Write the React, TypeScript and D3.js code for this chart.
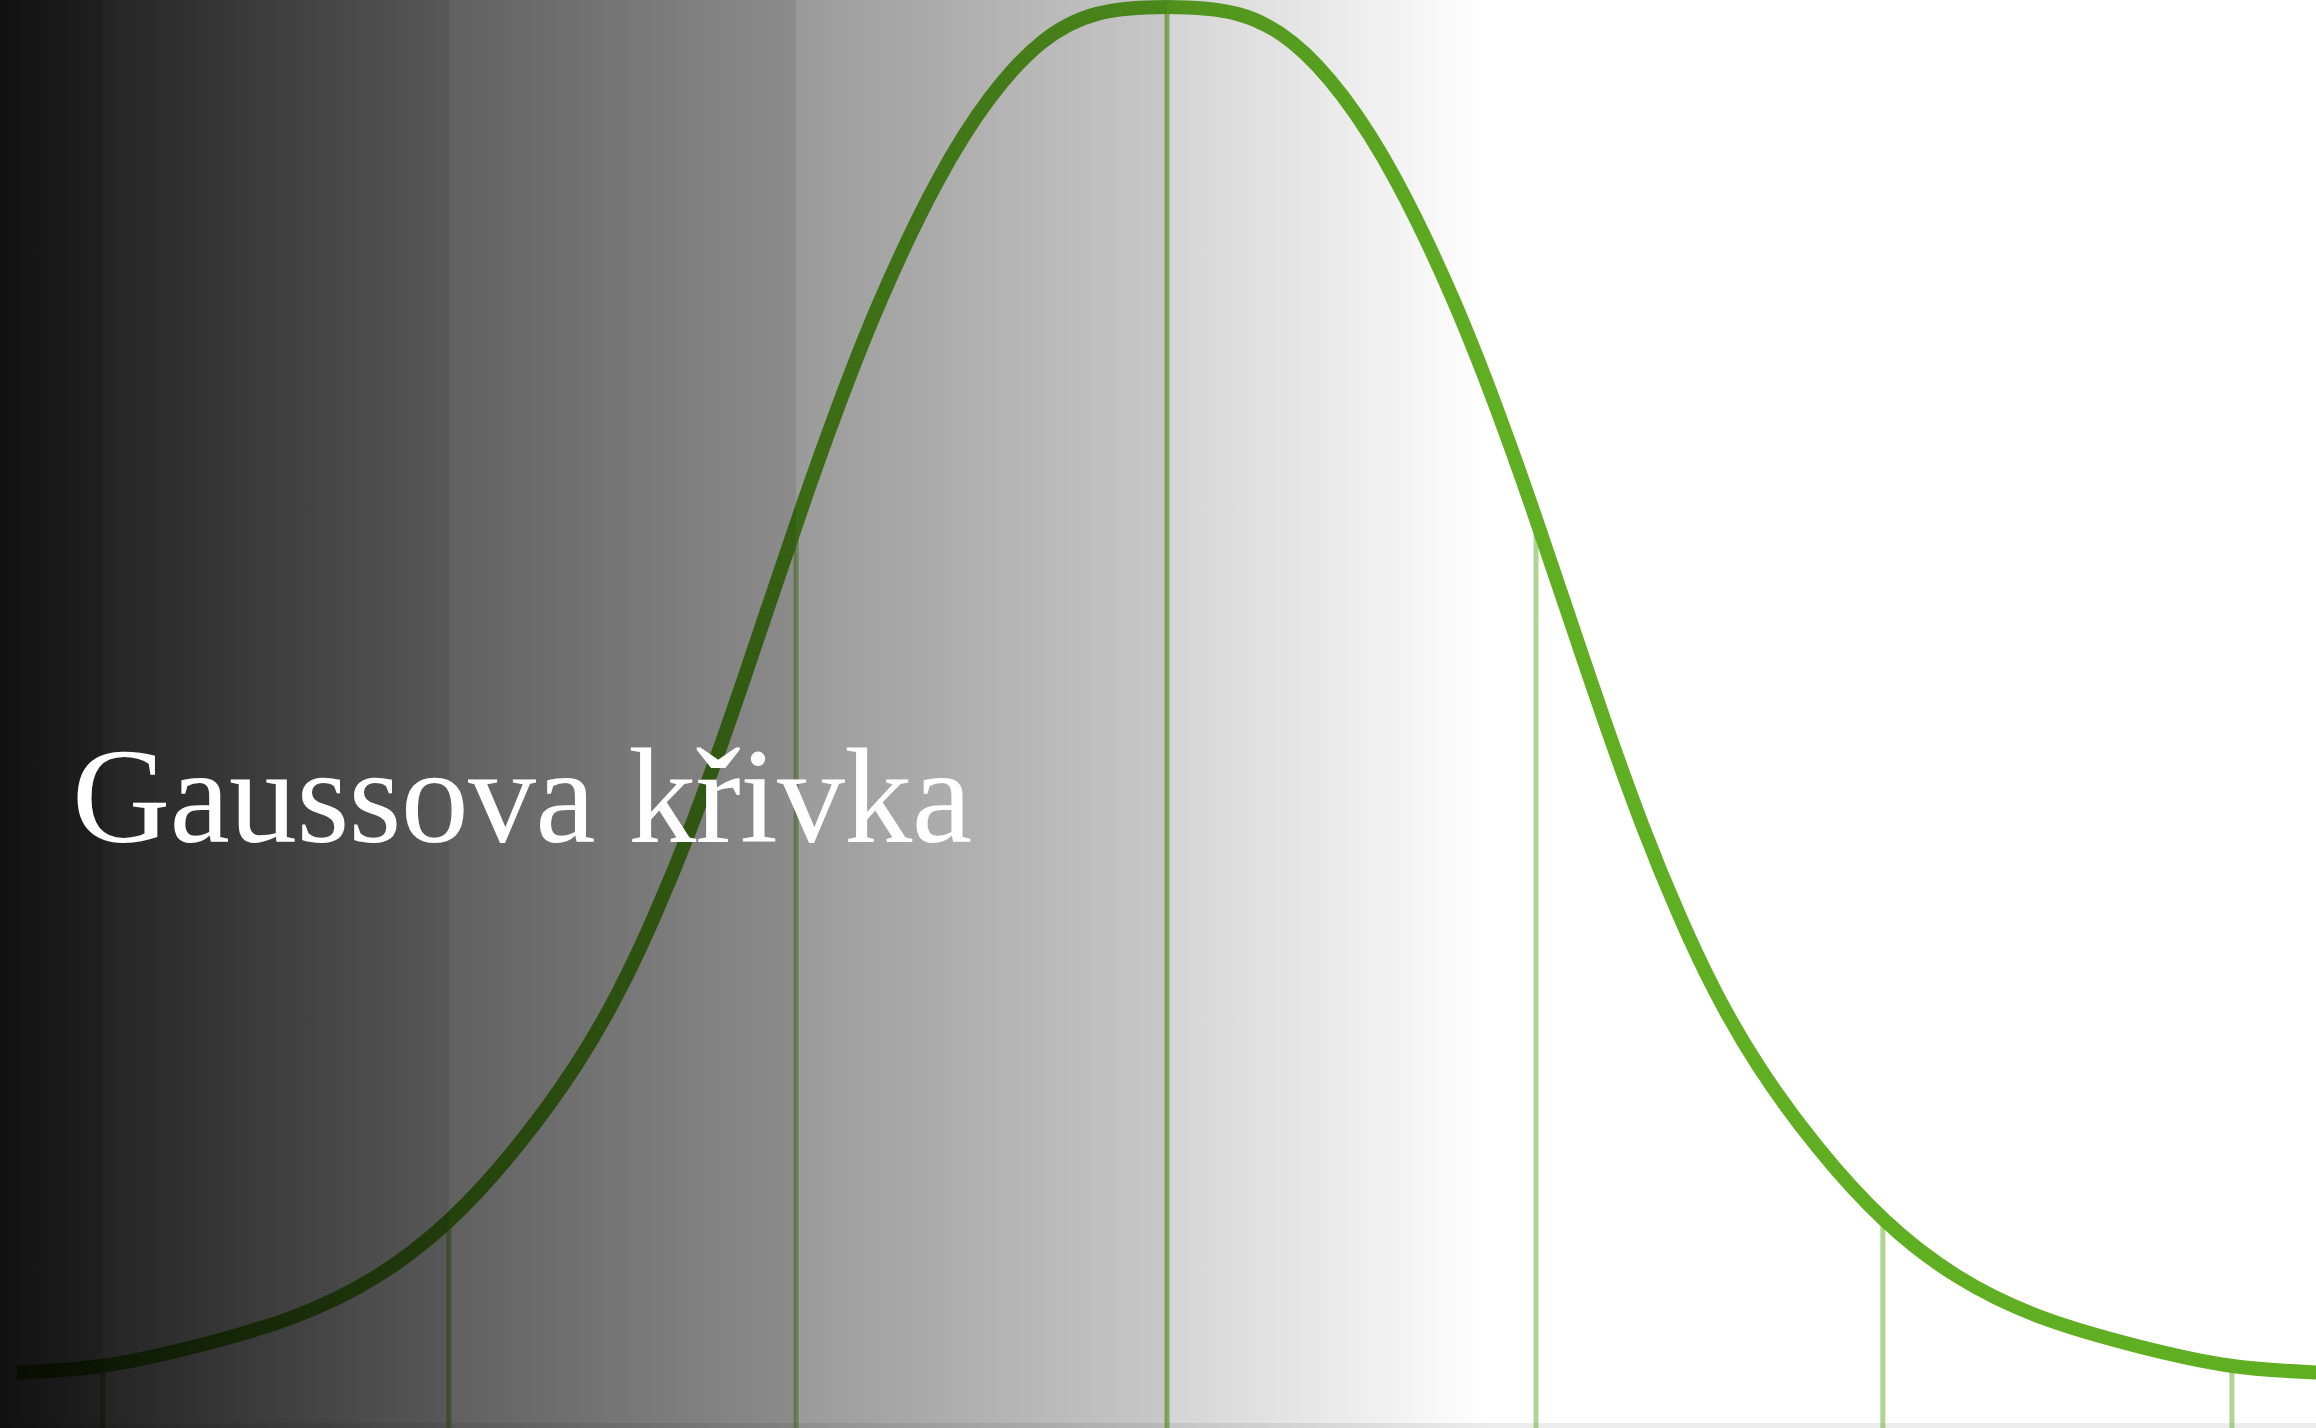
// App.tsx
import { useEffect, useRef } from 'react';
import * as d3 from 'd3';

// curve samples (x in sigma units, y as share of peak height)
const curveX = [
  -3.117, -2.883, -2.634, -2.371, -2.141, -1.943, -1.762, -1.604, -1.485, -1.388,
  -1.29, -1.187, -1.084, -0.989, -0.894, -0.775, -0.621, -0.477, -0.341, -0.19,
  0,
  0.19, 0.341, 0.477, 0.621, 0.775, 0.894, 0.989, 1.084, 1.187, 1.29,
  1.388, 1.485, 1.604, 1.762, 1.943, 2.141, 2.371, 2.634, 2.883, 3.117,
];
const curveY = [
  0.009, 0.014, 0.028, 0.049, 0.079, 0.12, 0.173, 0.231, 0.286, 0.341,
  0.405, 0.481, 0.562, 0.637, 0.708, 0.788, 0.874, 0.935, 0.974, 0.995,
  1.0,
  0.995, 0.974, 0.935, 0.874, 0.788, 0.708, 0.637, 0.562, 0.481, 0.405,
  0.341, 0.286, 0.231, 0.173, 0.12, 0.079, 0.049, 0.028, 0.014, 0.009,
];

// vertical guide lines
const guides = [-2.883, -1.946, -1.005, 0, 1.0, 1.94, 2.886];

// background shade bands (brightness at start / end of each band)
const bandStart = [17, 36, 96, 154, 212];
const bandEnd = [31, 88, 140, 200, 255];
const shadeEnd = 0.875; // where the last band reaches white

const title = 'Gaussova křivka';

const W = 2316;
const H = 1428;

export default function App() {
  const ref = useRef<SVGSVGElement>(null);

  useEffect(() => {
    if (!ref.current) return;
    const svg = d3.select(ref.current);
    svg.selectAll('*').remove();

    const x = d3.scaleLinear().domain([-3, 3]).range([1167 - 3 * 369, 1167 + 3 * 369]);
    const y = d3.scaleLinear().domain([0, 1]).range([1385, 7]);

    const pts = curveX.map((u, i) => ({ u, v: curveY[i] }));
    const green = '#60ae22';

    // white paper
    svg.append('rect').attr('width', W).attr('height', H).attr('fill', '#fff');
    svg.append('rect').attr('y', H - 5).attr('width', W).attr('height', 5).attr('fill', '#ececec');

    // guide lines, from the curve down to the bottom
    const bis = d3.bisector((d: any) => d.u).left;
    const curveAt = (u: number) => {
      const i = Math.max(1, Math.min(pts.length - 1, bis(pts, u)));
      const a = pts[i - 1], b = pts[i];
      const t = (u - a.u) / (b.u - a.u);
      return a.v + (b.v - a.v) * t;
    };

    svg.selectAll('.guide')
      .data(guides)
      .enter()
      .append('line')
      .attr('class', 'guide')
      .attr('x1', d => x(d))
      .attr('x2', d => x(d))
      .attr('y1', d => y(curveAt(d)))
      .attr('y2', H)
      .attr('stroke', green)
      .attr('stroke-opacity', d => (d === 0 ? 0.65 : 0.5))
      .attr('stroke-width', 5);

    // the curve
    const line = d3.line<any>()
      .x(d => x(d.u))
      .y(d => y(d.v))
      .curve(d3.curveNatural);

    svg.append('path')
      .datum(pts)
      .attr('fill', 'none')
      .attr('stroke', green)
      .attr('stroke-width', 14)
      .attr('d', line);

    // dark shading overlay, one gradient per band between guides
    const defs = svg.append('defs');
    const starts = [0, ...guides.slice(0, 4).map(g => Math.round(x(g)))];
    bandStart.forEach((b0, i) => {
      const x0 = starts[i];
      const last = i === bandStart.length - 1;
      const x1 = last ? x(shadeEnd) : starts[i + 1];
      const g = defs.append('linearGradient')
        .attr('id', `band${i}`)
        .attr('gradientUnits', 'userSpaceOnUse')
        .attr('x1', x0).attr('x2', x1)
        .attr('y1', 0).attr('y2', 0);
      g.append('stop').attr('offset', 0).attr('stop-color', '#000').attr('stop-opacity', 1 - b0 / 255);
      g.append('stop').attr('offset', 1).attr('stop-color', '#000').attr('stop-opacity', 1 - bandEnd[i] / 255);

      const rectEnd = last ? W : starts[i + 1];
      svg.append('rect')
        .attr('x', x0)
        .attr('y', 0)
        .attr('width', rectEnd - x0)
        .attr('height', H)
        .attr('shape-rendering', 'crispEdges')
        .attr('fill', `url(#band${i})`);
    });

    // title
    svg.append('text')
      .attr('x', 72)
      .attr('y', 842)
      .attr('fill', '#fff')
      .attr('font-family', '"Liberation Serif", "Times New Roman", Times, serif')
      .attr('font-size', 136)
      .attr('textLength', 900)
      .attr('lengthAdjust', 'spacing')
      .text(title);
  }, []);

  return (
    <svg
      ref={ref}
      width={W}
      height={H}
      style={{ position: 'fixed', left: 0, top: 0, display: 'block' }}
    />
  );
}
